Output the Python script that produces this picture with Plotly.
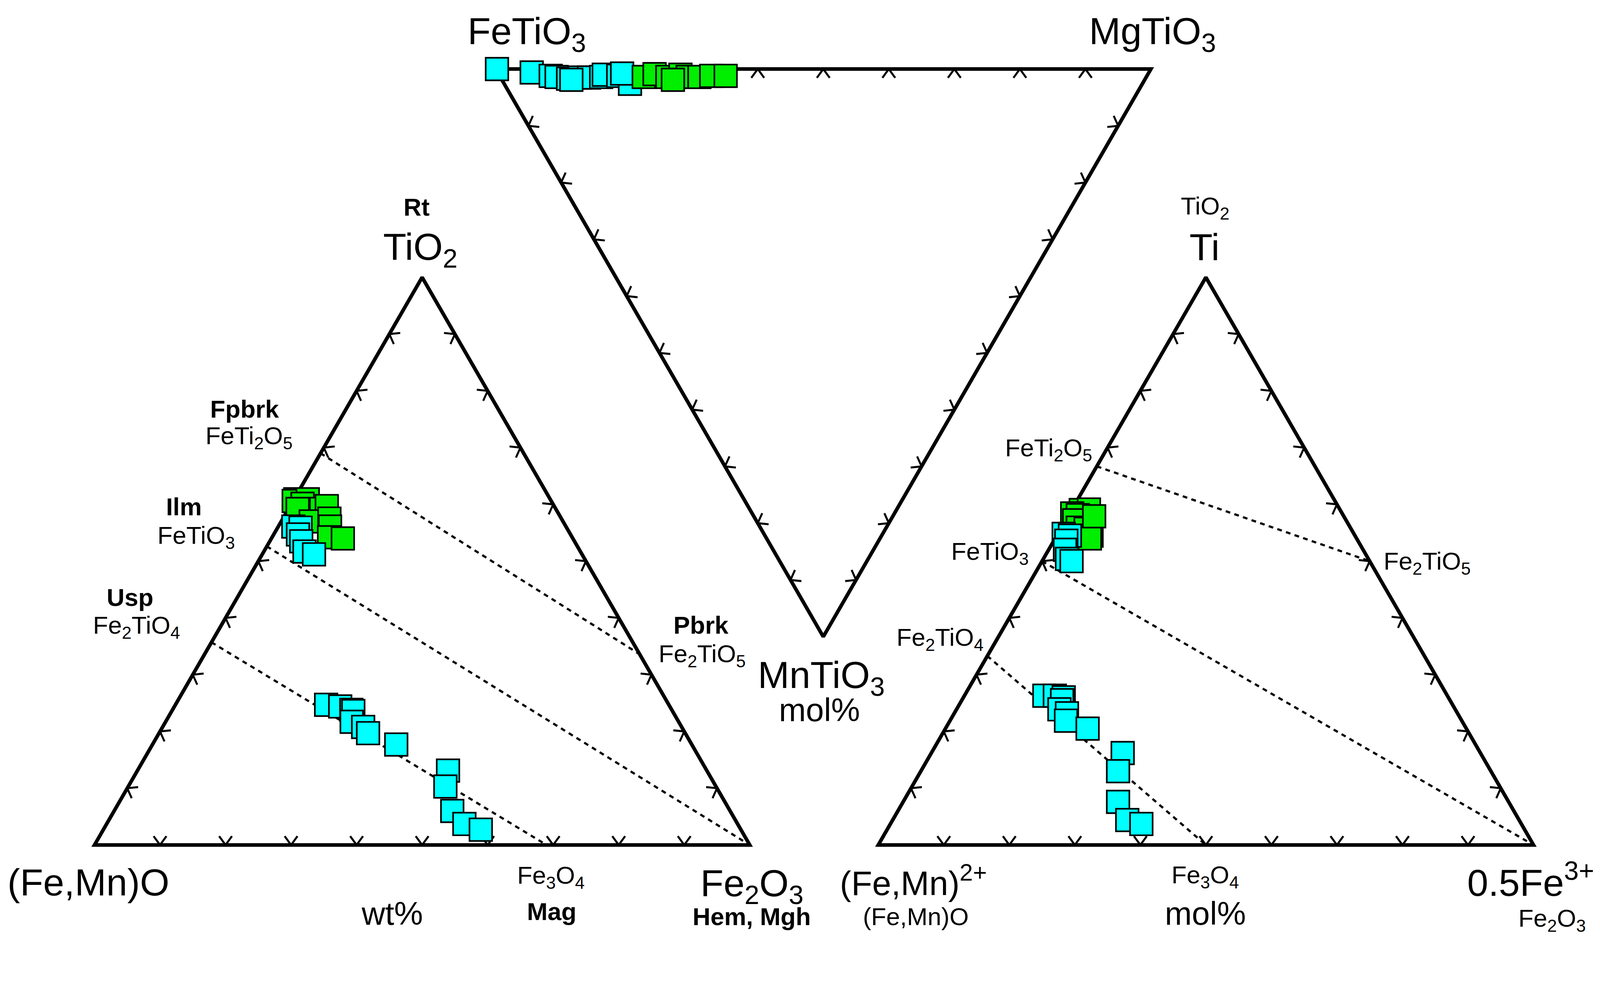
import math
import plotly.graph_objects as go

# ---------------- DATA ----------------
# Left diagram (wt%): TiO2 and Fe2O3 (remainder = (Fe,Mn)O)
left_green_tio2 = [60.9, 60.6, 60.9, 60.1, 59.2, 59.2, 59.7, 57.0, 57.5, 56.1, 54.2, 54.0]
left_green_fe2o3 = [0.2, 0.1, 2.1, 1.7, 1.4, 5.0, 5.6, 4.5, 7.1, 7.9, 8.7, 10.9]
left_cyan_tio2 = [56.1, 55.9, 54.7, 53.5, 51.7, 51.2,
                  24.7, 24.4, 23.8, 23.6, 21.7, 20.8, 19.7, 17.7, 13.1, 10.3, 6.0, 3.7, 2.7]
left_cyan_fe2o3 = [2.3, 3.5, 3.7, 4.8, 6.2, 7.9,
                   23.0, 25.3, 27.3, 27.7, 28.4, 30.6, 31.9, 37.2, 47.4, 48.4, 51.6, 54.6, 57.6]

# Middle diagram (mol%): MgTiO3 and MnTiO3 (remainder = FeTiO3)
mid_cyan_mgtio3 = [0.2, 5.2, 7.8, 8.6, 10.2, 12.1, 13.5, 15.4, 16.0, 18.1, 19.2, 18.9, 10.6]
mid_cyan_mntio3 = [0.0, 0.6, 1.2, 1.4, 1.7, 1.5, 1.5, 1.4, 1.0, 1.2, 2.6, 0.8, 1.9]
mid_green_mgtio3 = [21.9, 23.8, 25.5, 27.7, 28.6, 30.4, 32.3, 34.5, 26.1]
mid_green_mntio3 = [1.4, 0.9, 1.4, 1.0, 1.4, 1.4, 1.2, 1.2, 1.9]

# Right diagram (mol%, cations): Ti and 0.5Fe3+ (remainder = (Fe,Mn)2+)
right_green_ti = [59.0, 59.1, 58.4, 58.1, 57.2, 55.9, 55.7, 54.5, 54.0, 57.9]
right_green_fe3 = [1.4, 2.6, 0.4, 1.4, 1.3, 2.5, 3.8, 5.3, 5.3, 4.0]
right_cyan_ti = [54.8, 54.5, 53.6, 52.0, 50.4, 50.0,
                 26.3, 26.3, 26.0, 25.5, 23.9, 23.2, 21.9, 20.5, 16.2, 13.0, 7.6, 4.4, 3.7]
right_cyan_fe3 = [0.9, 2.0, 1.9, 2.5, 3.6, 4.5,
                  12.2, 13.8, 15.3, 15.3, 15.7, 17.2, 17.7, 21.7, 29.2, 30.1, 32.8, 35.8, 38.3]

# Reference joins: start -> end compositions
left_join_tio2 = [[69.0, 33.6], [52.6, 0.0], [35.7, 0.0]]
left_join_fe2o3 = [[0.0, 66.4], [0.0, 100.0], [0.0, 69.0]]
right_join_ti = [[66.7, 50.0], [50.0, 0.0], [33.3, 0.0]]
right_join_fe3 = [[0.0, 50.0], [0.0, 100.0], [0.0, 50.0]]

TICKS = [10, 20, 30, 40, 50, 60, 70, 80, 90]

# ---------------- LAYOUT GEOMETRY ----------------
W, H = 4377, 2575          # coordinate frame (target pixels)
S = 1.073                  # page-to-screen scale of the viewer
CSS_W, CSS_H = round(W / S), round(H / S)

LEFT = [(251, 2312), (2051, 2312), (1151, 753)]
MID = [(1353, 181), (3153, 181), (2253, 1740)]
RIGHT = [(2404, 2312), (4204, 2312), (3304, 753)]

GREEN = "#00EE00"
CYAN = "#00FFFF"
FONT = "Liberation Sans, Arial, sans-serif"


def px(v):
    return v / S


def proj(tri, b, c):
    (xa, ya), (xb, yb), (xc, yc) = tri
    b = b / 100.0
    c = c / 100.0
    a = 1.0 - b - c
    return a * xa + b * xb + c * xc, a * ya + b * yb + c * yc


def proj_list(tri, bs, cs):
    xs, ys = [], []
    for b, c in zip(bs, cs):
        x, y = proj(tri, b, c)
        xs.append(x)
        ys.append(y)
    return xs, ys


fig = go.Figure()

# triangle frames
for tri in (LEFT, MID, RIGHT):
    xs = [p[0] for p in tri] + [tri[0][0], tri[1][0]]
    ys = [p[1] for p in tri] + [tri[0][1], tri[1][1]]
    fig.add_trace(go.Scatter(x=xs, y=ys, mode="lines",
                             line=dict(color="black", width=px(10)),
                             hoverinfo="skip"))

# chevron ticks
ARM = 30
HALF = math.radians(36)
tx, ty = [], []
for tri in (LEFT, MID, RIGHT):
    cx = sum(p[0] for p in tri) / 3
    cy = sum(p[1] for p in tri) / 3
    for i in range(3):
        p1 = tri[i]
        p2 = tri[(i + 1) % 3]
        ex, ey = p2[0] - p1[0], p2[1] - p1[1]
        L = math.hypot(ex, ey)
        nx, ny = -ey / L, ex / L
        mx, my = (p1[0] + p2[0]) / 2, (p1[1] + p2[1]) / 2
        if (cx - mx) * nx + (cy - my) * ny < 0:
            nx, ny = -nx, -ny
        for t in TICKS:
            qx = p1[0] + ex * t / 100
            qy = p1[1] + ey * t / 100
            pts = []
            for s in (-1, 1):
                ca, sa = math.cos(s * HALF), math.sin(s * HALF)
                pts.append((qx + ARM * (nx * ca - ny * sa), qy + ARM * (nx * sa + ny * ca)))
            tx += [pts[0][0], qx, pts[1][0], None]
            ty += [pts[0][1], qy, pts[1][1], None]
fig.add_trace(go.Scatter(x=tx, y=ty, mode="lines",
                         line=dict(color="black", width=px(5.5)),
                         hoverinfo="skip"))

# dashed joins
DASH = "%.1fpx,%.1fpx" % (px(13), px(12))
for tri, jb, jc in ((LEFT, left_join_fe2o3, left_join_tio2),
                    (RIGHT, right_join_fe3, right_join_ti)):
    for bs, cs in zip(jb, jc):
        xs, ys = proj_list(tri, bs, cs)
        fig.add_trace(go.Scatter(x=xs, y=ys, mode="lines",
                                 line=dict(color="black", width=px(6), dash=DASH),
                                 hoverinfo="skip"))

marker_common = dict(symbol="square", size=px(62), line=dict(color="black", width=px(4.5)))


def add_points(tri, bs, cs, color):
    xs, ys = proj_list(tri, bs, cs)
    fig.add_trace(go.Scatter(x=xs, y=ys, mode="markers",
                             marker=dict(color=color, **marker_common)))


add_points(LEFT, left_green_fe2o3, left_green_tio2, GREEN)
add_points(LEFT, left_cyan_fe2o3, left_cyan_tio2, CYAN)
add_points(MID, mid_cyan_mgtio3, mid_cyan_mntio3, CYAN)
add_points(MID, mid_green_mgtio3, mid_green_mntio3, GREEN)
add_points(RIGHT, right_green_fe3, right_green_ti, GREEN)
add_points(RIGHT, right_cyan_fe3, right_cyan_ti, CYAN)

BIG, MED, PCT = 104, 68, 89
labels = [
    ("<b>Rt</b>", 1136, 560, MED),
    ("TiO<sub>2</sub>", 1146, 676, BIG),
    ("<b>Fpbrk</b>", 664, 1115, MED),
    ("FeTi<sub>2</sub>O<sub>5</sub>", 676, 1193, MED),
    ("<b>Ilm</b>", 497, 1383, MED),
    ("FeTiO<sub>3</sub>", 530, 1466, MED),
    ("<b>Usp</b>", 349, 1632, MED),
    ("Fe<sub>2</sub>TiO<sub>4</sub>", 366, 1713, MED),
    ("<b>Pbrk</b>", 1918, 1708, MED),
    ("Fe<sub>2</sub>TiO<sub>5</sub>", 1920, 1791, MED),
    ("(Fe,Mn)O", 234, 2415, BIG),
    ("wt%", 1069, 2500, PCT),
    ("Fe<sub>3</sub>O<sub>4</sub>", 1505, 2400, MED),
    ("<b>Mag</b>", 1507, 2494, MED),
    ("Fe<sub>2</sub>O<sub>3</sub>", 2057, 2424, BIG),
    ("<b>Hem, Mgh</b>", 2057, 2508, MED),
    ("FeTiO<sub>3</sub>", 1438, 84, BIG),
    ("MgTiO<sub>3</sub>", 3157, 84, BIG),
    ("MnTiO<sub>3</sub>", 2247, 1852, BIG),
    ("mol%", 2242, 1941, PCT),
    ("TiO<sub>2</sub>", 3302, 562, MED),
    ("Ti", 3300, 670, BIG),
    ("FeTi<sub>2</sub>O<sub>5</sub>", 2872, 1226, MED),
    ("FeTiO<sub>3</sub>", 2711, 1510, MED),
    ("Fe<sub>2</sub>TiO<sub>4</sub>", 2574, 1746, MED),
    ("Fe<sub>2</sub>TiO<sub>5</sub>", 3912, 1537, MED),
    ("(Fe,Mn)<sup>2+</sup>", 2500, 2410, 94),
    ("(Fe,Mn)O", 2507, 2508, MED),
    ("Fe<sub>3</sub>O<sub>4</sub>", 3302, 2398, MED),
    ("mol%", 3302, 2500, PCT),
    ("0.5Fe<sup>3+</sup>", 4196, 2408, BIG),
    ("Fe<sub>2</sub>O<sub>3</sub>", 4255, 2518, MED),
]
for text, x, y, size in labels:
    fig.add_annotation(x=x, y=y, text=text, showarrow=False,
                       xanchor="center", yanchor="middle",
                       font=dict(family=FONT, size=px(size), color="black"))

fig.update_layout(
    width=CSS_W, height=CSS_H,
    margin=dict(l=0, r=0, t=0, b=0),
    paper_bgcolor="white", plot_bgcolor="white",
    showlegend=False,
    xaxis=dict(range=[0, W], visible=False, fixedrange=True),
    yaxis=dict(range=[H, 0], visible=False, fixedrange=True),
)

fig.write_html("out.html")
